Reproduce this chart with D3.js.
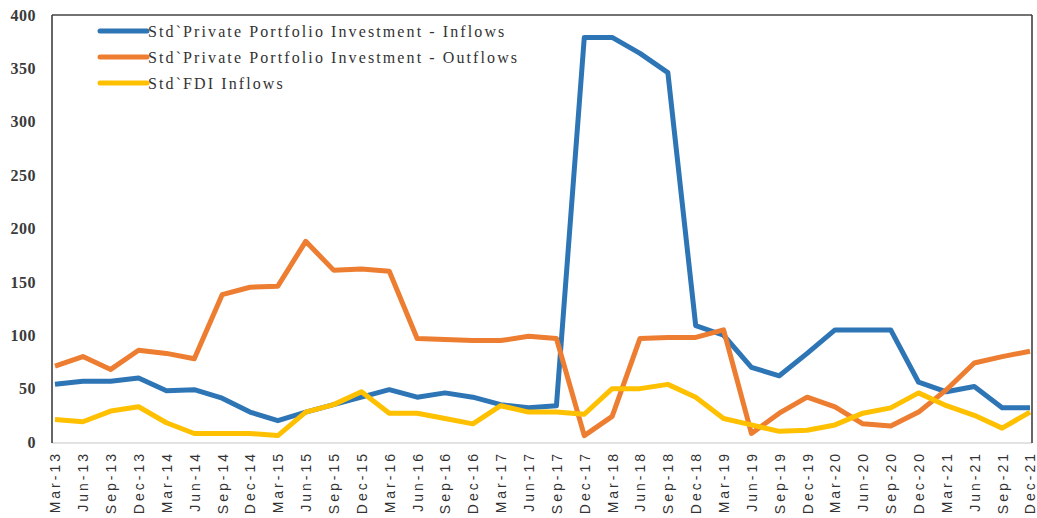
<!DOCTYPE html>
<html>
<head>
<meta charset="utf-8">
<script src="https://cdn.jsdelivr.net/npm/d3@7"></script>
<style>
	body { margin: 0; background: #fff; }
	svg { display: block; }
</style>
</head>
<body>
<svg id="chart" width="1037" height="518"></svg>
<script>
var quarters = [ 'Mar-13', 'Jun-13', 'Sep-13', 'Dec-13', 'Mar-14', 'Jun-14', 'Sep-14', 'Dec-14',
	'Mar-15', 'Jun-15', 'Sep-15', 'Dec-15', 'Mar-16', 'Jun-16', 'Sep-16', 'Dec-16',
	'Mar-17', 'Jun-17', 'Sep-17', 'Dec-17', 'Mar-18', 'Jun-18', 'Sep-18', 'Dec-18',
	'Mar-19', 'Jun-19', 'Sep-19', 'Dec-19', 'Mar-20', 'Jun-20', 'Sep-20', 'Dec-20',
	'Mar-21', 'Jun-21', 'Sep-21', 'Dec-21' ];

var ppiInflows = [ 54, 57, 57, 60, 48, 49, 41, 28, 20, 28, 35, 42, 49, 42, 46, 42, 35, 32,
	34, 379, 379, 364, 346, 109, 100, 70, 62, 83, 105, 105, 105, 56, 47, 52, 32, 32 ];

var ppiOutflows = [ 71, 80, 68, 86, 83, 78, 138, 145, 146, 188, 161, 162, 160, 97, 96, 95, 95, 99,
	97, 6, 24, 97, 98, 98, 105, 8, 27, 42, 33, 17, 15, 28, 49, 74, 80, 85 ];

var fdiInflows = [ 21, 19, 29, 33, 18, 8, 8, 8, 6, 28, 35, 47, 27, 27, 22, 17, 34, 28,
	28, 26, 50, 50, 54, 42, 22, 16, 10, 11, 16, 27, 32, 46, 34, 25, 13, 28 ];

var seriesNames = [ 'Std`Private Portfolio Investment - Inflows',
	'Std`Private Portfolio Investment - Outflows',
	'Std`FDI Inflows' ];

var yTicks = [ 0, 50, 100, 150, 200, 250, 300, 350, 400 ];

( function() {
	var series = [
		{ name: seriesNames[ 0 ], values: ppiInflows, color: '#2E75B6' },
		{ name: seriesNames[ 1 ], values: ppiOutflows, color: '#ED7D31' },
		{ name: seriesNames[ 2 ], values: fdiInflows, color: '#FFC000' }
	];

	var svg = d3.select( '#chart' );

	// plot frame edges
	var plotLeft = 52, plotRight = 1032, plotTop = 15, plotBottom = 442;

	var x = d3.scalePoint().domain( quarters ).range( [ 55, 1030 ] );
	var y = d3.scaleLinear().domain( [ 0, 400 ] ).range( [ plotBottom, plotTop ] );

	// y axis labels, no tick marks
	var yAxis = svg.append( 'g' )
		.attr( 'transform', 'translate(' + plotLeft + ',0)' )
		.call( d3.axisLeft( y ).tickValues( yTicks ).tickSize( 0 ).tickPadding( 16 ) );
	yAxis.select( '.domain' ).remove();
	yAxis.selectAll( 'text' )
		.attr( 'font-family', '"Liberation Serif", "Times New Roman", serif' )
		.attr( 'font-size', 16 )
		.attr( 'font-weight', 'bold' )
		.attr( 'letter-spacing', 0.5 )
		.attr( 'fill', '#3a3a3a' );

	// x axis labels, rotated
	var xAxis = svg.append( 'g' )
		.attr( 'transform', 'translate(0,' + plotBottom + ')' )
		.call( d3.axisBottom( x ).tickSize( 0 ).tickPadding( 0 ) );
	xAxis.select( '.domain' ).remove();
	xAxis.selectAll( 'text' )
		.attr( 'font-family', '"Liberation Sans", Arial, sans-serif' )
		.attr( 'font-size', 14 )
		.attr( 'letter-spacing', 3 )
		.attr( 'fill', '#333' )
		.attr( 'text-anchor', 'end' )
		.attr( 'dy', '0.35em' )
		.attr( 'transform', 'translate(0,9) rotate(-90)' )
		.attr( 'x', 0 )
		.attr( 'y', 0 );

	// frame lines
	svg.append( 'line' ).attr( 'x1', plotLeft ).attr( 'x2', plotRight )
		.attr( 'y1', plotBottom + 1 ).attr( 'y2', plotBottom + 1 )
		.attr( 'stroke', '#d9d9d9' ).attr( 'stroke-width', 1.5 );
	svg.append( 'line' ).attr( 'x1', plotLeft ).attr( 'x2', plotRight )
		.attr( 'y1', plotTop ).attr( 'y2', plotTop )
		.attr( 'stroke', '#444' ).attr( 'stroke-width', 1.5 );
	svg.append( 'line' ).attr( 'x1', plotLeft ).attr( 'x2', plotLeft )
		.attr( 'y1', plotTop ).attr( 'y2', plotBottom + 1 )
		.attr( 'stroke', '#333' ).attr( 'stroke-width', 1.5 );
	svg.append( 'line' ).attr( 'x1', plotRight ).attr( 'x2', plotRight )
		.attr( 'y1', plotTop ).attr( 'y2', plotBottom + 1 )
		.attr( 'stroke', '#333' ).attr( 'stroke-width', 1.5 );

	var line = d3.line()
		.x( function( _d, _i ) { return x( quarters[ _i ] ); } )
		.y( function( _d ) { return y( _d ); } );

	svg.selectAll( 'path.series' )
		.data( series )
		.enter().append( 'path' )
		.attr( 'class', 'series' )
		.attr( 'd', function( _d ) { return line( _d.values ); } )
		.attr( 'fill', 'none' )
		.attr( 'stroke', function( _d ) { return _d.color; } )
		.attr( 'stroke-width', 5 )
		.attr( 'stroke-linejoin', 'round' );

	// legend
	var legend = svg.append( 'g' ).attr( 'transform', 'translate(100,31)' );
	var item = legend.selectAll( 'g' )
		.data( series )
		.enter().append( 'g' )
		.attr( 'transform', function( _d, _i ) { return 'translate(0,' + ( _i * 26 ) + ')'; } );
	item.append( 'line' )
		.attr( 'x1', 0 ).attr( 'x2', 47 )
		.attr( 'stroke', function( _d ) { return _d.color; } )
		.attr( 'stroke-width', 5 )
		.attr( 'stroke-linecap', 'round' );
	item.append( 'text' )
		.attr( 'x', 48 )
		.attr( 'dy', '0.35em' )
		.attr( 'font-family', '"Liberation Serif", "Times New Roman", serif' )
		.attr( 'font-size', 16 )
		.attr( 'letter-spacing', 2.1 )
		.attr( 'fill', '#333' )
		.text( function( _d ) { return _d.name; } );
} )();
</script>
</body>
</html>
